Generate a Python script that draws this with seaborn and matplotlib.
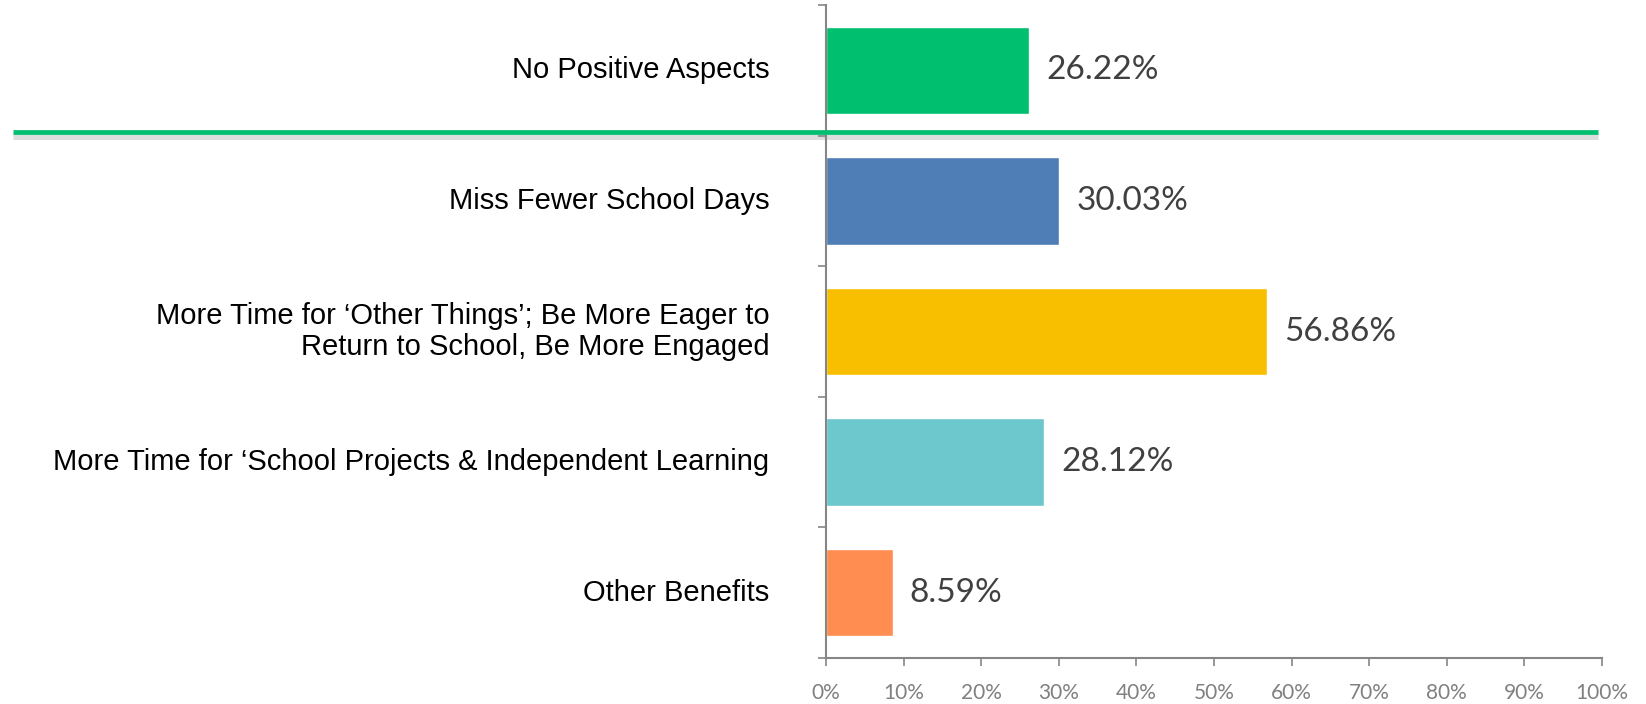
import matplotlib
matplotlib.use("Agg")
import matplotlib.pyplot as plt
import matplotlib.patheffects as pe
from matplotlib.lines import Line2D
from matplotlib.ticker import FixedLocator, PercentFormatter
import seaborn as sns
import pandas as pd

categories = [
    "No Positive Aspects",
    "Miss Fewer School Days",
    "More Time for \u2018Other Things\u2019; Be More Eager to\nReturn to School, Be More Engaged",
    "More Time for \u2018School Projects & Independent Learning",
    "Other Benefits",
]
shares = [26.22, 30.03, 56.86, 28.12, 8.59]
bar_colors = ["#00BF6F", "#4F7DB5", "#F8BF00", "#6CC8CC", "#FF8C50"]
x_ticks = [0, 10, 20, 30, 40, 50, 60, 70, 80, 90, 100]

df = pd.DataFrame({"category": categories, "share": shares})

sns.set_style("white")
plt.rcParams["font.family"] = ["Liberation Sans", "DejaVu Sans"]

fig = plt.figure(figsize=(16.46, 7.04), dpi=100)
ax = fig.add_axes([0.5018, 0.0653, 0.4715, 0.9276])

sns.barplot(data=df, x="share", y="category", hue="category", palette=bar_colors,
            orient="h", width=0.67, legend=False, saturation=1, ax=ax)

ax.set_xlim(0, 100)
ax.set_ylim(4.5, -0.5)
ax.set_xlabel("")
ax.set_ylabel("")

# value labels
for i, v in enumerate(shares):
    ax.text(v + 2.2, i, f"{v:.2f}%", va="center", ha="left", fontsize=24,
            color="#404040", family=["Lato", "DejaVu Sans"])

# category labels sit left of the axis, ticks go on the category boundaries
ax.set_yticks([])
for i, c in enumerate(categories):
    ax.text(-7.3, i, c, ha="right", va="center", fontsize=21, color="black",
            linespacing=1.15, transform=ax.transData, clip_on=False)
ax.yaxis.set_minor_locator(FixedLocator([-0.5, 0.5, 1.5, 2.5, 3.5, 4.5]))
ax.tick_params(axis="y", which="minor", length=6, width=1.2, color="#868686", left=True)

ax.xaxis.set_major_locator(FixedLocator(x_ticks))
ax.xaxis.set_major_formatter(PercentFormatter(decimals=0))
ax.tick_params(axis="x", length=6, width=1.2, color="#868686", labelcolor="#808080",
               labelsize=15, pad=12, bottom=True)
for lbl in ax.get_xticklabels():
    lbl.set_family(["Lato", "DejaVu Sans"])

for s in ["top", "right"]:
    ax.spines[s].set_visible(False)
for s in ["left", "bottom"]:
    ax.spines[s].set_color("#868686")
    ax.spines[s].set_linewidth(1.5)

# green separator under the first bar
sep = Line2D([0.0079, 0.9708], [0.8132, 0.8132], transform=fig.transFigure,
             color="#00BF6F", linewidth=3.4, solid_capstyle="butt",
             path_effects=[pe.SimpleLineShadow(offset=(0, -3), shadow_color="#888888", alpha=0.28,
                                               linewidth=5),
                           pe.Normal()])
fig.add_artist(sep)

fig.savefig("out.png", dpi=100)
